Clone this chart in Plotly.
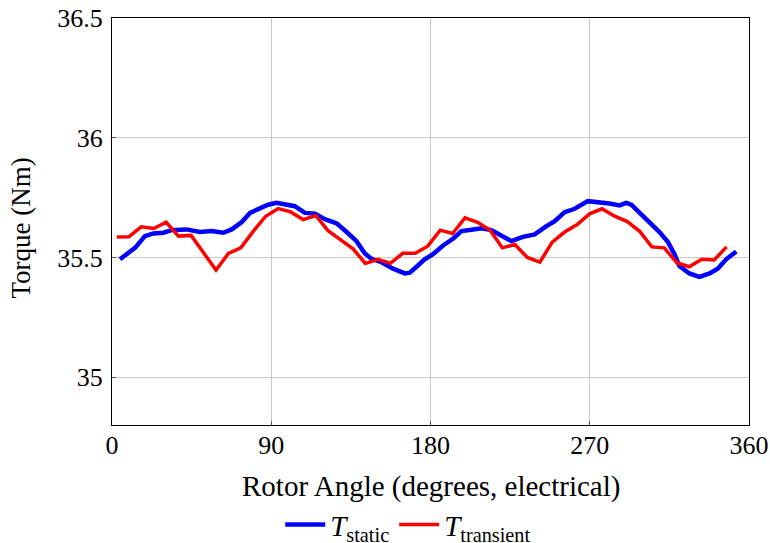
import plotly.graph_objects as go

# Static torque (blue)
static_angle = [4.5, 8.5, 13.0, 18.6, 23.4, 29.0, 33.7, 42.2, 49.7, 56.4, 62.9, 67.6, 73.2, 78.0,
                82.6, 88.2, 93.0, 98.7, 103.3, 109.0, 114.7, 120.3, 127.0, 132.6, 138.2, 142.8,
                146.6, 152.3, 158.8, 165.5, 168.3, 172.1, 176.7, 181.4, 187.1, 192.7, 197.5,
                204.1, 208.8, 214.4, 220.0, 225.7, 232.2, 238.9, 245.5, 250.2, 255.8, 261.5,
                268.9, 276.6, 281.2, 286.9, 290.6, 293.5, 298.2, 303.8, 309.4, 314.2, 317.9,
                320.7, 326.3, 332.0, 337.7, 342.3, 347.1, 352.8]
static_torque = [35.492, 35.515, 35.540, 35.589, 35.600, 35.603, 35.614, 35.617, 35.606, 35.610,
                 35.603, 35.617, 35.647, 35.686, 35.703, 35.720, 35.728, 35.722, 35.714, 35.686,
                 35.683, 35.660, 35.642, 35.606, 35.568, 35.517, 35.494, 35.480, 35.453, 35.433,
                 35.436, 35.461, 35.492, 35.513, 35.550, 35.578, 35.610, 35.617, 35.622, 35.614,
                 35.592, 35.568, 35.586, 35.596, 35.631, 35.651, 35.689, 35.703, 35.735, 35.731,
                 35.725, 35.717, 35.728, 35.720, 35.686, 35.647, 35.606, 35.564, 35.513, 35.464,
                 35.433, 35.419, 35.433, 35.453, 35.492, 35.525]

# Transient torque (red)
transient_angle = [2.7, 9.5, 16.5, 23.6, 30.6, 37.6, 44.7, 51.7, 58.8, 65.8, 72.8, 79.9, 86.9,
                   93.9, 101.0, 108.0, 115.1, 122.1, 129.1, 136.2, 143.2, 150.3, 157.3, 164.3,
                   171.4, 178.4, 185.5, 192.5, 199.5, 206.6, 213.6, 220.6, 227.7, 234.7, 241.8,
                   248.8, 255.8, 262.9, 269.9, 277.0, 284.0, 291.0, 298.1, 305.1, 312.1, 319.2,
                   326.2, 333.3, 340.3, 347.3]
transient_torque = [35.585, 35.586, 35.628, 35.621, 35.647, 35.589, 35.592, 35.520, 35.447, 35.517,
                    35.540, 35.610, 35.672, 35.704, 35.690, 35.658, 35.675, 35.612, 35.575, 35.536,
                    35.475, 35.492, 35.475, 35.517, 35.517, 35.547, 35.614, 35.600, 35.665, 35.647,
                    35.614, 35.540, 35.554, 35.500, 35.480, 35.564, 35.606, 35.637, 35.682, 35.703,
                    35.672, 35.651, 35.610, 35.544, 35.540, 35.478, 35.461, 35.492, 35.489, 35.544]

x_ticks = [0, 90, 180, 270, 360]
y_ticks = [35, 35.5, 36, 36.5]
y_tick_labels = ["35", "35.5", "36", "36.5"]
x_title = "Rotor Angle (degrees, electrical)"
y_title = "Torque (Nm)"

FONT = "Liberation Serif"
FS = 26

fig = go.Figure()
fig.add_trace(go.Scatter(x=static_angle, y=static_torque, mode="lines",
                         line=dict(color="#0000ff", width=4.5),
                         name="<i>T</i><sub>static</sub>"))
fig.add_trace(go.Scatter(x=transient_angle, y=transient_torque, mode="lines",
                         line=dict(color="#ff0000", width=3.5),
                         name="<i>T</i><sub>transient</sub>"))

axis_common = dict(showline=True, mirror=True, linecolor="black", linewidth=1,
                   showgrid=True, gridcolor="#c8c8c8", gridwidth=1, zeroline=False,
                   ticks="inside", ticklen=4, tickcolor="#555555", automargin=False,
                   ticklabeloverflow="allow",
                   tickfont=dict(family=FONT, size=FS, color="black"))

fig.update_layout(
    width=770, height=543,
    margin=dict(l=112, r=20.5, t=18, b=118, autoexpand=False),
    paper_bgcolor="white", plot_bgcolor="white",
    font=dict(family=FONT, size=FS, color="black"),
    xaxis=dict(range=[0, 360], tickvals=x_ticks, ticklabelstandoff=-3, **axis_common),
    yaxis=dict(range=[34.8, 36.5], tickvals=y_ticks, ticktext=y_tick_labels,
               ticklabelstandoff=3, **axis_common),
    legend=dict(orientation="h", x=0.465, xanchor="center", y=-0.245, yanchor="middle",
                font=dict(family=FONT, size=29), bgcolor="rgba(0,0,0,0)",
                itemwidth=40, tracegroupgap=0),
    showlegend=True,
    annotations=[
        dict(text=x_title, xref="paper", yref="paper", x=0.5, y=-0.152,
             xanchor="center", yanchor="middle", showarrow=False,
             font=dict(family=FONT, size=29)),
        dict(text=y_title, xref="paper", yref="paper", x=-0.143, y=0.485, textangle=-90,
             xanchor="center", yanchor="middle", showarrow=False,
             font=dict(family=FONT, size=27)),
    ],
)

# remove the default page margin so the 770x543 figure fills the window exactly
fig.write_html("out.html", config={"displayModeBar": False},
               post_script="document.body.style.margin='0';document.body.style.overflow='hidden';")
